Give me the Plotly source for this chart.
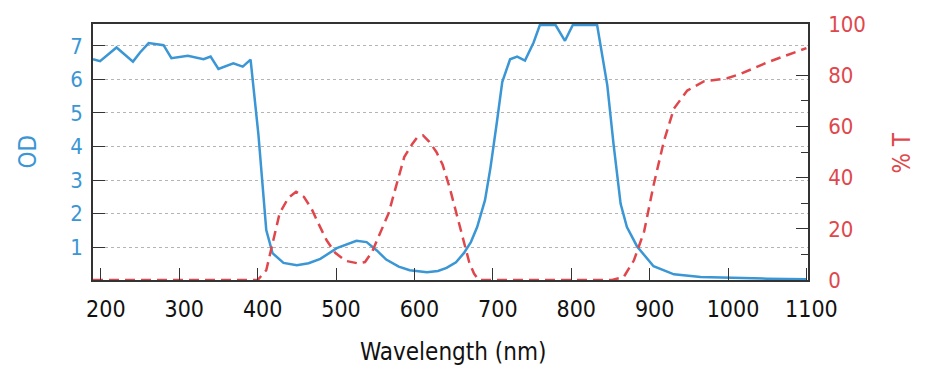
import plotly.graph_objects as go

# ---- data ----
od_wavelength = [190, 199, 220, 241, 250, 261, 280, 290, 311, 331, 340, 350, 369, 381, 391,
                 401, 411, 419, 433, 450, 465, 480, 501, 526, 539, 552, 564, 580, 594, 616,
                 630, 641, 653, 663, 672, 680, 690, 697, 705, 712, 722, 731, 741, 752, 760,
                 780, 792, 802, 833, 846, 854, 863, 871, 884, 905, 931, 965, 1007, 1050, 1100]
od_values = [6.6, 6.54, 6.95, 6.53, 6.8, 7.08, 7.02, 6.63, 6.7, 6.6, 6.68, 6.31, 6.48, 6.38, 6.59,
             4.35, 1.51, 0.82, 0.53, 0.46, 0.52, 0.65, 0.97, 1.19, 1.15, 0.9, 0.63, 0.42, 0.31, 0.25,
             0.29, 0.38, 0.55, 0.82, 1.15, 1.6, 2.4, 3.37, 4.7, 5.92, 6.6, 6.68, 6.56, 7.1, 7.62,
             7.62, 7.15, 7.62, 7.62, 5.82, 4.06, 2.29, 1.6, 1.02, 0.43, 0.19, 0.11, 0.08, 0.06, 0.04]

t_wavelength = [190, 400, 411, 419, 428, 439, 449, 459, 469, 477, 488, 499, 512, 528, 537,
                546, 556, 567, 576, 587, 597, 603, 611, 619, 628, 636, 645, 651, 658, 664,
                670, 676, 682, 852, 860, 867, 880, 893, 905, 918, 931, 948, 969, 999, 1016,
                1050, 1100]
t_values = [0, 0, 3.8, 14, 26, 32, 34.5, 32.5, 27.7, 22.4, 15.5, 10.6, 7.5, 6.5, 7,
            11, 18, 26, 36, 48, 53, 55.5, 56.5, 54, 50, 45, 36, 29, 20, 13,
            6.8, 2.5, 0, 0, 0.5, 1.2, 7.7, 19, 37, 54, 67, 74, 77.6, 78.8, 80.5,
            85, 90.6]

x_ticks = [200, 300, 400, 500, 600, 700, 800, 900, 1000, 1100]
od_ticks = [1, 2, 3, 4, 5, 6, 7]
t_ticks = [0, 20, 40, 60, 80, 100]
t_minor_ticks = [10, 30, 50, 70]

BLUE = "#3a96d4"
RED = "#e0474c"
AXIS = "#333333"
FONT = "DejaVu Sans Condensed, Liberation Sans, sans-serif"

fig = go.Figure()
fig.add_trace(go.Scatter(x=od_wavelength, y=od_values, mode="lines",
                         line=dict(color=BLUE, width=2.5), yaxis="y", showlegend=False))
fig.add_trace(go.Scatter(x=t_wavelength, y=t_values, mode="lines",
                         line=dict(color=RED, width=2.5, dash="10px,6px"), yaxis="y2",
                         showlegend=False))

fig.update_layout(
    width=926, height=384,
    margin=dict(l=93, r=118, t=21, b=104),
    paper_bgcolor="white", plot_bgcolor="white",
    font=dict(family=FONT, size=22, color="#111111"),
    xaxis=dict(range=[190, 1102], tickvals=x_ticks, ticks="inside", ticklen=12,
               tickcolor=AXIS, showline=True, linecolor=AXIS, linewidth=1.5, mirror=True,
               showgrid=False, zeroline=False, tickfont=dict(size=23, color="#111111"),
               ticklabelshift=5, ticklabelstandoff=8),
    yaxis=dict(range=[0.02, 7.65], tickvals=od_ticks, ticks="inside", ticklen=12,
               tickcolor=AXIS, showline=True, linecolor=AXIS, linewidth=1.5,
               showgrid=True, gridcolor="#b4b4b4", griddash="dot", gridwidth=1,
               zeroline=False, tickfont=dict(size=22, color=BLUE), ticklabelstandoff=4),
    yaxis2=dict(range=[0, 100], tickvals=t_ticks, overlaying="y", side="right",
                ticks="inside", ticklen=12, tickcolor=AXIS, showline=True, linecolor=AXIS,
                linewidth=1.5, showgrid=False, zeroline=False,
                tickfont=dict(size=22, color=RED), ticklabelstandoff=14,
                minor=dict(tickvals=t_minor_ticks, ticks="inside", ticklen=7,
                           tickcolor=AXIS, showgrid=False)),
    annotations=[
        dict(text="OD", xref="paper", yref="paper", x=-0.0909, y=0.502, textangle=-90,
             showarrow=False, xanchor="center", yanchor="middle",
             font=dict(size=24, color=BLUE, family=FONT)),
        dict(text="% T", xref="paper", yref="paper", x=1.1315, y=0.494, textangle=-90,
             showarrow=False, xanchor="center", yanchor="middle",
             font=dict(size=24, color=RED, family=FONT)),
        dict(text="Wavelength (nm)", xref="paper", yref="paper", x=0.503, y=-0.282,
             showarrow=False, xanchor="center", yanchor="middle",
             font=dict(size=24, color="#111111", family=FONT)),
    ],
)

fig.write_html("out.html", config={"displayModeBar": False},
               post_script="document.body.style.margin='0';document.body.style.overflow='hidden';")
